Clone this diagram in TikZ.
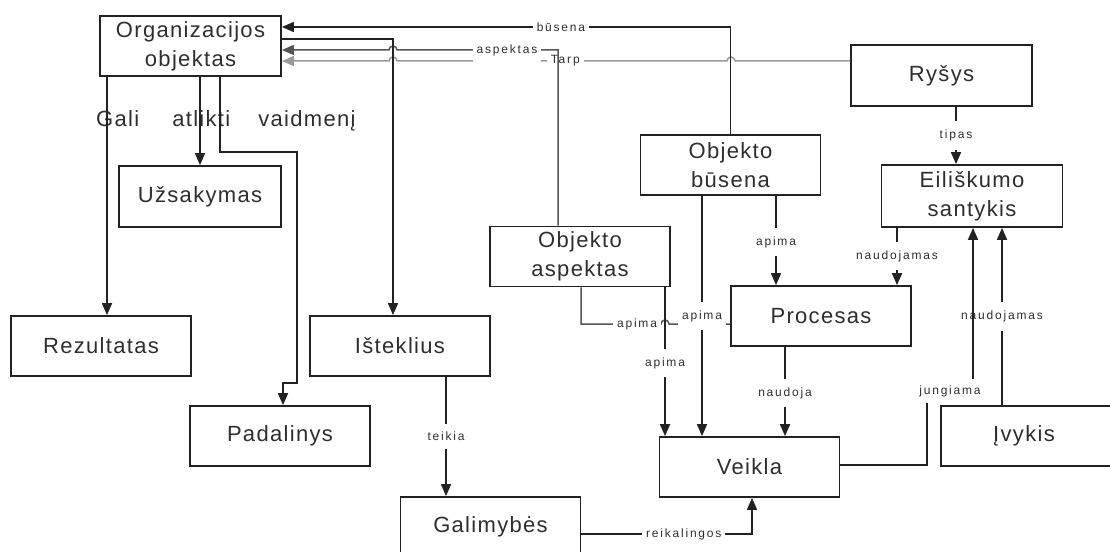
\documentclass[tikz,border=0pt]{standalone}
\usepackage{fontspec}
\setmainfont{Liberation Sans}
\newfontfamily\boxfont[LetterSpace=6]{Liberation Sans}
\newfontfamily\lblfont[LetterSpace=15]{Liberation Sans}
\usetikzlibrary{arrows.meta,calc}
\definecolor{ink}{HTML}{222222}
\definecolor{txt}{HTML}{2E2E2E}
\definecolor{midgray}{HTML}{555555}
\definecolor{lightgray}{HTML}{9A9A9A}
\tikzset{
  box/.style={draw=ink, line width=1.8pt, minimum width=180pt, minimum height=60pt,
    inner sep=0pt, align=center, text=txt, font=\boxfont\fontsize{22}{29}\selectfont},
  conn/.style={draw=ink, line width=1.7pt, -{Triangle[length=12pt,width=10pt]}},
  plain/.style={draw=ink, line width=1.7pt},
  lbl/.style={fill=white, inner xsep=4pt, inner ysep=8.5pt, text=txt,
    font=\lblfont\fontsize{12}{14}\selectfont},
}
\begin{document}
\begin{tikzpicture}[x=1pt,y=-1pt]
\useasboundingbox (0,0) rectangle (1110,551);
\clip (0,0) rectangle (1110,551);
\fill[white] (0,0) rectangle (1110,551);

% boxes
\node[box, minimum width=181pt] (org) at (190.5,46) {Organizacijos\\objektas};
\node[box, minimum width=162pt, minimum height=61pt] (uzs) at (200,196.5) {Užsakymas};
\node[box] (rez) at (101,346) {Rezultatas};
\node[box] (pad) at (280,436) {Padalinys};
\node[box] (ist) at (400,346) {Išteklius};
\node[box] (gal) at (490.5,527) {Galimybės};
\node[box] (asp) at (580,256.5) {Objekto\\aspektas};
\node[box] (bus) at (730.5,165) {Objekto\\būsena};
\node[box] (proc) at (821,316) {Procesas};
\node[box] (veik) at (749.5,467) {Veikla};
\node[box] (ivyk) at (1031,436) {Įvykis\hspace{14pt}};
\node[box, minimum width=181pt, minimum height=61pt] (rys) at (941.5,75.5) {Ryšys};
\node[box, minimum width=181pt, minimum height=62pt] (eil) at (972,196) {Eiliškumo\\santykis};

% free-standing caption under the top box
\node[anchor=base west, inner sep=0pt, text=txt, font=\boxfont\fontsize{22}{29}\selectfont]
  (role) at (96,126) {Gali\hspace{33pt}atlikti\hspace{28pt}vaidmenį};

% links into the top box
\draw[conn, draw=lightgray, line width=1.5pt] (rys.west |- 0,61) -- (735,61)
  arc[start angle=0,end angle=180,radius=4pt]
  -- node[lbl, pos=0.49] {Tarp} (397,61)
  arc[start angle=0,end angle=180,radius=4pt]
  -- (org.east |- 0,61);
\draw[conn, draw=midgray, line width=1.5pt] ($(asp.north)+(-22,0)$) -- (558,50)
  -- node[lbl, pos=0.317] {aspektas} (397,50)
  arc[start angle=0,end angle=180,radius=4pt]
  -- (org.east |- 0,50);
\draw[conn] (bus.north) -- (bus.north |- 0,27)
  -- node[lbl, pos=0.378] {būsena} (org.east |- 0,27);

% links out of the top box
\draw[conn] (org.east |- 0,39) -- (393,39) -- (393,0 |- ist.north);
\draw[conn] (uzs.north |- org.south) -- (uzs.north);
\draw[conn] (107,0 |- org.south) -- (107,0 |- rez.north);
\draw[conn] (220,0 |- org.south) -- (220,152) -- (297,152) -- (297,383)
  -- (283,383) -- (283,0 |- pad.north);

% lower left chain
\draw[conn] (446,0 |- ist.south) -- node[lbl] {teikia} (446,0 |- gal.north);
\draw[conn] (gal.east |- 0,534) -- node[lbl, pos=0.6] {reikalingos} (752,534)
  -- (752,0 |- veik.south);

% aspect / state links
\draw[plain, draw=midgray, line width=1.5pt] (581,0 |- asp.south) -- (581,324)
  -- node[lbl, pos=0.7] {apima} (661,324)
  arc[start angle=180,end angle=0,radius=4pt]
  -- (proc.west |- 0,324);
\draw[conn] (665,0 |- asp.south) -- node[lbl, pos=0.51] {apima} (665,0 |- veik.north);
\draw[conn] (702,0 |- bus.south) -- node[lbl, pos=0.5] {apima} (702,0 |- veik.north);
\draw[conn] (776,0 |- bus.south) -- node[lbl, pos=0.52] {apima} (776,0 |- proc.north);

% right side
\draw[conn] (956,0 |- rys.south) -- node[lbl] {tipas} (956,0 |- eil.north);
\draw[conn] (897,0 |- eil.south) -- node[lbl, pos=0.49] {naudojamas} (897,0 |- proc.north);
\draw[conn] (785,0 |- proc.south) -- node[lbl, pos=0.52] {naudoja} (785,0 |- veik.north);
\draw[conn] (1002,0 |- ivyk.north) -- node[lbl, pos=0.5] {naudojamas} (1002,0 |- eil.south);
\draw[conn] (veik.east |- 0,465) -- (927,465) -- (927,391)
  -- node[lbl, inner ysep=6pt] {jungiama} (973,391) -- (973,0 |- eil.south);
\end{tikzpicture}
\end{document}
